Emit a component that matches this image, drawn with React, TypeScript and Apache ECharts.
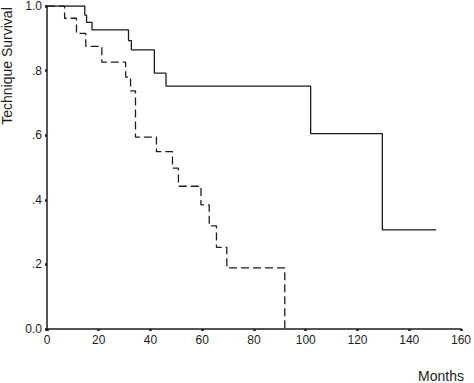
import React, { useEffect, useRef } from "react";
import * as echarts from "echarts";

const solidMonths = [0, 14.6, 15.3, 17.4, 31.5, 32.6, 41.5, 46, 101.9, 129.6, 150.4];
const solidSurvival = [1.0, 0.972, 0.949, 0.926, 0.893, 0.864, 0.792, 0.752, 0.605, 0.307, 0.307];

const dashedMonths = [0, 6.8, 11.4, 15, 21.2, 30.4, 32.3, 34.2, 42.3, 48.5, 50.8, 59.5, 62.7, 65.5, 69.5, 91.9];
const dashedSurvival = [1.0, 0.962, 0.915, 0.875, 0.826, 0.78, 0.737, 0.594, 0.549, 0.498, 0.442, 0.384, 0.319, 0.253, 0.189, 0];

const yTickValues = [0, 0.2, 0.4, 0.6, 0.8, 1.0];
const yTickLabels = ["0.0", ".2", ".4", ".6", ".8", "1.0"];

const xTitle = "Months";
const yTitle = "Technique Survival";

const FONT = "Arial, 'Liberation Sans', Helvetica, sans-serif";
const INK = "#1c1c1c";

export default function App() {
  const ref = useRef<HTMLDivElement>(null);
  useEffect(() => {
    if (!ref.current) return;
    const chart = echarts.init(ref.current, undefined, { renderer: "svg" });
    const yLabel = (v: number) => {
      const i = yTickValues.findIndex((t) => Math.abs(t - v) < 1e-6);
      return i >= 0 ? yTickLabels[i] : "";
    };
    chart.setOption({
      animation: false,
      backgroundColor: "#ffffff",
      grid: { left: 47, right: 11, top: 3.3, bottom: 54, containLabel: false },
      xAxis: {
        type: "value",
        min: 0,
        max: 160,
        interval: 20,
        axisLine: { show: true, lineStyle: { color: INK, width: 1.5 } },
        axisTick: { show: true, length: 2, lineStyle: { color: INK, width: 2.5 } },
        axisLabel: { color: INK, fontSize: 12, fontFamily: FONT, margin: 5 },
        splitLine: { show: false },
      },
      yAxis: {
        type: "value",
        min: 0,
        max: 1,
        interval: 0.2,
        axisLine: { show: true, lineStyle: { color: INK, width: 1.5 } },
        axisTick: { show: true, length: 2, lineStyle: { color: INK, width: 2.5 } },
        axisLabel: { color: INK, fontSize: 12, fontFamily: FONT, margin: 5, formatter: yLabel },
        splitLine: { show: false },
      },
      graphic: [
        {
          type: "text",
          x: 7,
          y: 66,
          rotation: Math.PI / 2,
          style: {
            text: yTitle,
            fill: INK,
            font: `14px ${FONT}`,
            align: "center",
            verticalAlign: "middle",
          },
        },
        {
          type: "text",
          x: 441,
          y: 376,
          style: {
            text: xTitle,
            fill: INK,
            font: `14px ${FONT}`,
            align: "center",
            verticalAlign: "middle",
          },
        },
      ],
      series: [
        {
          type: "line",
          step: "end",
          symbol: "none",
          data: solidMonths.map((m, i) => [m, solidSurvival[i]]),
          lineStyle: { color: INK, width: 1.3, type: "solid" },
          silent: true,
        },
        {
          type: "line",
          step: "end",
          symbol: "none",
          data: dashedMonths.map((m, i) => [m, dashedSurvival[i]]),
          lineStyle: { color: INK, width: 1.3, type: [8, 4] },
          silent: true,
        },
      ],
    });
    return () => chart.dispose();
  }, []);
  return (
    <div
      ref={ref}
      style={{ position: "fixed", left: 0, top: 0, width: 474, height: 383, background: "#fff" }}
    />
  );
}
